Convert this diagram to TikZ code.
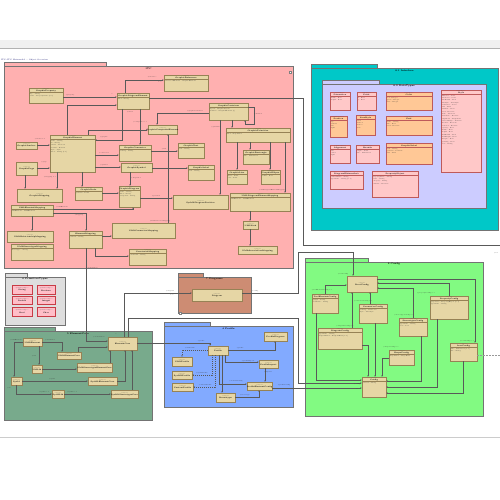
\documentclass[tikz,border=0pt]{standalone}
\usetikzlibrary{fit,arrows.meta}
\definecolor{frameband}{RGB}{240,240,240}
\definecolor{itcf}{RGB}{255,176,176}
\definecolor{tealf}{RGB}{0,200,200}
\definecolor{lavf}{RGB}{204,204,255}
\definecolor{primf}{RGB}{222,222,222}
\definecolor{brownf}{RGB}{205,140,115}
\definecolor{bluef}{RGB}{130,170,255}
\definecolor{greenf}{RGB}{130,250,130}
\definecolor{coref}{RGB}{120,170,140}
\definecolor{objf}{RGB}{230,214,165}
\definecolor{objd}{RGB}{150,130,85}
\definecolor{dtpink}{RGB}{255,200,200}
\definecolor{dtorange}{RGB}{255,200,150}
\definecolor{dtd}{RGB}{190,90,90}
\definecolor{primbox}{RGB}{255,190,200}
\definecolor{primd}{RGB}{200,60,70}
\tikzset{
  xobj/.style={draw=objd, fill=objf, line width=0.3pt, inner sep=0pt, outer sep=0pt},
  xst/.style={font=\fontsize{1.3}{1.5}\selectfont, inner sep=0pt, text=black!70},
  xnm/.style={font=\bfseries\fontsize{1.8}{2}\selectfont, inner sep=0pt},
  xatr/.style={font=\fontsize{1.4}{2.3}\selectfont, inner sep=0pt, align=left, text=black!85},
  xsep/.style={draw=objd, line width=0.2pt},
  xpk/.style={draw=black!55, line width=0.35pt, inner sep=0pt, outer sep=0pt},
  xpt/.style={font=\bfseries\fontsize{2.2}{2.6}\selectfont, inner sep=0pt},
  xln/.style={draw=black!65, line width=0.3pt},
  xar/.style={xln, -{Latex[length=1.6pt,width=1.3pt]}},
  xdl/.style={xln, dash pattern=on 1.2pt off 0.8pt, -{Latex[length=1.6pt,width=1.3pt]}},
  xlb/.style={font=\fontsize{1.4}{1.6}\selectfont, inner sep=0.2pt, text=black!80},
}
\newcommand\UMLob[7]{%
  \node[xobj, fit={(#2,#3)(#4,#5)}] (#1) {};
  \if\relax\detokenize{#7}\relax
    \node[xst] (#1s) at ([yshift=1.0pt]#1.center) {«object»};
    \node[xnm] (#1n) at ([yshift=-0.8pt]#1.center) {#6};
  \else
    \node[xst] (#1s) at ([yshift=-1.3pt]#1.north) {«object»};
    \node[xnm] (#1n) at ([yshift=-3.0pt]#1.north) {#6};
    \draw[xsep] ([yshift=-4.5pt]#1.north west) -- ([yshift=-4.5pt]#1.north east);
    \node[xatr, anchor=north west] (#1a) at ([xshift=0.7pt,yshift=-5.0pt]#1.north west) {#7};
  \fi}
\newcommand\UMLdt[9]{%
  \node[xobj, draw=dtd, fill=#6, fit={(#2,#3)(#4,#5)}] (#1) {};
  \node[xst] (#1s) at ([yshift=-1.3pt]#1.north) {«#7»};
  \node[xnm] (#1n) at ([yshift=-3.0pt]#1.north) {#8};
  \draw[xsep, draw=dtd] ([yshift=-4.5pt]#1.north west) -- ([yshift=-4.5pt]#1.north east);
  \node[xatr, anchor=north west] (#1a) at ([xshift=0.7pt,yshift=-5.0pt]#1.north west) {#9};}
\newcommand\UMLpb[6]{%
  \node[xobj, draw=primd, fill=primbox, fit={(#2,#3)(#4,#5)}] (#1) {};
  \node[xst] (#1s) at ([yshift=0.9pt]#1.center) {«primitiveType»};
  \node[xnm] (#1n) at ([yshift=-0.9pt]#1.center) {#6};}
\newcommand\UMLpk[8]{%
  \draw[xpk, fill=#7] (#2,#3-4) rectangle (#6,#3);
  \node[xpk, fill=#7, fit={(#2,#3)(#4,#5)}] (#1) {};
  \node[xpt] (#1t) at ([yshift=-2.4pt]#1.north) {#8};}
\begin{document}
\begin{tikzpicture}[x=1pt,y=-1pt]
\useasboundingbox (0,0) rectangle (500,500);
\fill[white] (0,0) rectangle (500,500);
% frame
\fill[frameband] (0,40) rectangle (500,48);
\draw[black!30, line width=0.4pt] (0,48) -- (500,48);
\draw[black!20, line width=0.4pt] (0,437) -- (500,437);
\node[font=\fontsize{1.9}{2.1}\selectfont, text=blue!40!black, anchor=west, inner sep=0pt] (toptitle) at (1,60) {ITC::ITC Metamodel :: Object Overview};

% ===== packages =====
\UMLpk{pITC}{4}{66}{293}{268}{106}{itcf}{ITC}
\node[draw=black!50, fill=white, line width=0.2pt, minimum size=2.5pt, inner sep=0pt] (icoITC) at (290,72) {};
\UMLpk{pTeal}{311}{68}{498}{230}{377}{tealf}{8.1 Interface}
\UMLpk{pLav}{322}{84}{486}{208}{379}{lavf}{8.2 DataTypes}
\UMLpk{pPrim}{5}{277}{65}{325}{27}{primf}{6 PrimitiveTypes}
\UMLpk{pBrown}{178}{277}{251}{313}{203}{brownf}{7 Diagrams}
\node[draw=black!50, fill=white, line width=0.2pt, minimum size=2.5pt, inner sep=0pt] (icoBr) at (180,313) {};
\UMLpk{pBlue}{164}{326}{293}{407}{210}{bluef}{4 Profile}
\UMLpk{pGreen}{305}{262}{483}{416}{368}{greenf}{2 Config}
\UMLpk{pCore}{4}{331}{152}{420}{55}{coref}{5 ElementCore}

% ===== ITC objects =====
\UMLob{i1}{29}{88}{63}{103}{GraphicProperty}{key : String\\value : PropertyValue [0..1]}
\UMLob{i2}{117}{93}{149}{109}{GraphicDiagramElement}{kind : String}
\UMLob{i3}{164}{75}{208}{91}{GraphicReference}{referencedElement : GraphicElement}
\UMLob{i4}{209}{103}{248}{120}{GraphicContainer}{layout : GraphicLayout\\children : GraphicElement [*]}
\UMLob{i5}{50}{135}{95}{172}{GraphicElement}{name : String\\id : String\\visible : Boolean\\bounds : Bounds\\style : Style\\label : String [0..1]}
\UMLob{i6}{16}{142}{37}{149}{GraphicAnchor}{}
\UMLob{i7}{16}{162}{37}{175}{GraphicPage}{}
\UMLob{i8}{148}{125}{177}{134}{GraphicCompositeElement}{}
\UMLob{i9}{119}{145}{151}{161}{GraphicConnector}{routing : String}
\UMLob{i10}{121}{163}{152}{172}{GraphicSymbol}{}
\UMLob{i11}{178}{143}{204}{158}{GraphicText}{text : String}
\UMLob{i12}{188}{165}{214}{180}{GraphicLabel}{text : String}
\UMLob{i13}{226}{128}{290}{142}{GraphicPrimitive}{kind : ShapeKind}
\UMLob{i14}{243}{150}{269}{164}{GraphicRectangle}{size : Dimension}
\UMLob{i15}{227}{170}{247}{184}{GraphicLine}{start : Point\\end : Point}
\UMLob{i16}{261}{170}{280}{184}{GraphicEllipse}{radius : Real}
\UMLob{i17}{17}{189}{62}{202}{GraphicMapping}{}
\UMLob{i18}{75}{187}{102}{200}{GraphicNode}{position : Point}
\UMLob{i19}{119}{186}{140}{207}{GraphicDiagram}{name : String\\kind : String\\viewpoint : String}
\UMLob{i20}{173}{195}{228}{209}{SysMLDiagramPosition}{}
\UMLob{i21}{230}{193}{290}{211}{UMLDiagramElementMapping}{umlElement : UMLElement}
\UMLob{i22}{11}{205}{53}{216}{UMLElementMapping}{umlElement : UMLElement}
\UMLob{i23}{7}{231}{53}{242}{UMLRelationshipMapping}{}
\UMLob{i24}{11}{244}{53}{260}{UMLStereotypeMapping}{stereotype : String}
\UMLob{i25}{69}{231}{102}{248}{ElementMapping}{element : String}
\UMLob{i26}{112}{223}{175}{238}{UMLConnectorMapping}{}
\UMLob{i27}{243}{221}{258}{229}{UMLLink}{}
\UMLob{i28}{238}{246}{277}{254}{UMLAssociationMapping}{}
\UMLob{i29}{129}{249}{166}{265}{ConstraintMapping}{constraint : String}

% ===== data types =====
\UMLdt{d1}{330}{92}{350}{110}{dtpink}{dataType}{Dimension}{width : Real\\height : Real}
\UMLdt{d2}{357}{92}{376}{110}{dtpink}{dataType}{Point}{x : Real\\y : Real}
\UMLdt{d3}{386}{92}{432}{110}{dtorange}{dataType}{Color}{red : Integer\\green : Integer\\blue : Integer}
\UMLdt{d4}{441}{90}{481}{172}{dtpink}{dataType}{Style}{\fontsize{1.4}{3.0}\selectfont fillColor : Color\\lineColor : Color\\lineWidth : Real\\lineStyle : LineStyle\\textColor : Color\\font : Font\\fontSize : Real\\bold : Boolean\\italic : Boolean\\underline : Boolean\\alignment : Alignment\\verticalAlign : Position\\shadow : Boolean\\rounded : Boolean\\opacity : Real\\width : Real\\height : Real\\minWidth : Real\\minHeight : Real\\margin : Real\\padding : Real\\icon : String}
\UMLdt{d5}{330}{116}{347}{137}{dtorange}{enumeration}{Position}{top\\bottom\\left\\right}
\UMLdt{d6}{356}{115}{375}{135}{dtorange}{enumeration}{LineStyle}{solid\\dashed\\dotted\\none}
\UMLdt{d7}{386}{116}{432}{135}{dtorange}{dataType}{Font}{name : String\\size : Real\\bold : Boolean}
\UMLdt{d8}{330}{145}{350}{163}{dtpink}{enumeration}{Alignment}{left\\center\\right}
\UMLdt{d9}{356}{145}{379}{163}{dtpink}{dataType}{Bounds}{origin : Point\\size : Dimension}
\UMLdt{d10}{386}{143}{432}{164}{dtorange}{dataType}{GraphicLabel}{text : String\\position : Position\\font : Font}
\UMLdt{d11}{330}{171}{363}{189}{dtpink}{dataType}{DiagramElementInfo}{elementKind : String\\typeName : String [0..1]}
\UMLdt{d12}{372}{171}{418}{197}{dtpink}{dataType}{PropertyObject}{propertyName : String\\value : String\\category : String\\editable : Boolean}

% ===== primitive types =====
\UMLpb{p1}{12}{285}{32}{294}{String}
\UMLpb{p2}{37}{285}{55}{294}{Boolean}
\UMLpb{p3}{12}{296}{32}{304}{Double}
\UMLpb{p4}{37}{296}{55}{304}{Integer}
\UMLpb{p5}{12}{307}{32}{316}{Real}
\UMLpb{p6}{37}{307}{55}{316}{Char}

% ===== brown =====
\UMLob{br}{192}{289}{242}{301}{Diagram}{}

% ===== element core =====
\UMLob{e1}{23}{338}{42}{346}{UMLElement}{}
\UMLob{e2}{108}{337}{137}{350}{ElementCore}{}
\UMLob{e3}{57}{352}{81}{359}{UMLElementCore}{}
\UMLob{e4}{32}{365}{42}{373}{UMLId}{}
\UMLob{e5}{77}{363}{112}{372}{UMLStereotypeElementCore}{}
\UMLob{e6}{11}{377}{22}{385}{SysId}{}
\UMLob{e7}{88}{377}{117}{385}{SysMLElementCore}{}
\UMLob{e8}{52}{390}{64}{398}{SysMLId}{}
\UMLob{e9}{111}{390}{138}{398}{SysMLStereotypeCore}{}

% ===== profile =====
\UMLob{b1}{208}{346}{228}{355}{Profile}{}
\UMLob{b2}{264}{332}{287}{341}{ProfileDiagram}{}
\UMLob{b3}{172}{357}{192}{366}{UMLProfile}{}
\UMLob{b4}{172}{371}{192}{379}{SysMLProfile}{}
\UMLob{b5}{172}{383}{193}{391}{CustomProfile}{}
\UMLob{b6}{259}{360}{278}{368}{ProfileImport}{}
\UMLob{b7}{247}{382}{272}{390}{ProfileElementConfig}{}
\UMLob{b8}{216}{393}{235}{402}{Stereotype}{}

% ===== config =====
\UMLob{g1}{347}{276}{377}{292}{RootConfig}{}
\UMLob{g2}{312}{294}{338}{313}{ToolElementConfig}{plugin : String\\toolName : String}
\UMLob{g3}{359}{304}{387}{323}{ConnectorConfig}{routing : Connector\\style : LineStyle}
\UMLob{g4}{430}{296}{468}{319}{PropertyConfig}{properties : PropertyObject [0..*]\\typeName : String}
\UMLob{g5}{399}{318}{427}{336}{StereotypeConfig}{typeName : String\\icon : Icon}
\UMLob{g6}{318}{328}{362}{349}{DiagramConfig}{typeName : String\\diagramKind : DiagramKind [0..1]}
\UMLob{g7}{389}{350}{414}{365}{ShapeConfig}{shapeKind : ShapeKind}
\UMLob{g8}{450}{343}{477}{361}{IconConfig}{size : Dimension [0..1]\\file : String}
\UMLob{g9}{362}{377}{386}{397}{Config}{version : String}

% ===== ITC connectors =====
\draw[xar] (i1.east|-0,97) -- (i2.west|-0,97);
\draw[xar] (125,0|-i2.north) -- (125,80) -- (i3.west|-0,80);
\draw[xln] (i2.east|-0,98) -- (303,98) -- (303,245) -- (500,245);
\draw[xar] (i4.west|-0,113) -- (157,113) -- (157,0|-i8.north);
\draw[xar] (i4.east|-0,107) -- (254,107) -- (254,124) -- (245,124) -- (245,0|-i4.south);
\draw[xar] (232,0|-i4.south) -- (232,0|-i13.north);
\draw[xar] (220,0|-i4.south) -- (220,0|-i20.north);
\draw[xar] (250,0|-i13.south) -- (250,0|-i14.north);
\draw[xar] (237,0|-i13.south) -- (237,0|-i15.north);
\draw[xar] (270,0|-i13.south) -- (270,0|-i16.north);
\draw[xar] (285,0|-i13.south) -- (285,0|-i21.north);
\draw[xar] (i6.east|-0,145) -- (i5.west|-0,145);
\draw[xar] (i7.east|-0,168) -- (i5.west|-0,168);
\draw[xar] (25,0|-i7.south) -- (25,0|-i17.north);
\draw[xar] (i5.east|-0,155) -- (i9.west|-0,155);
\draw[xar] (i5.east|-0,167) -- (i10.west|-0,167);
\draw[xar] (67,0|-i5.north) -- (67,105) -- (i2.west|-0,105);
\draw[xar] (88,0|-i5.north) -- (88,130) -- (i8.west|-0,130);
\draw[xar] (122,0|-i2.south) -- (122,140) -- (i5.east|-0,140);
\draw[xar] (140,0|-i2.south) -- (140,0|-i9.north);
\draw[xar] (i9.east|-0,151) -- (i11.west|-0,151);
\draw[xar] (i10.east|-0,168) -- (i12.west|-0,168);
\draw[xar] (57,0|-i5.south) -- (57,0|-i17.north);
\draw[xar] (82,0|-i5.south) -- (82,0|-i18.north);
\draw[xar] (130,0|-i10.south) -- (130,0|-i19.north);
\draw[xar] (i18.east|-0,193) -- (i19.west|-0,193);
\draw[xar] (i19.east|-0,198) -- (i20.west|-0,198);
\draw[xar] (i22.east|-0,209) -- (133,209) -- (133,0|-i19.south);
\draw[xar] (32,0|-i22.south) -- (32,0|-i23.north);
\draw[xar] (i22.east|-0,213) -- (86,213) -- (86,0|-i25.north);
\draw[xar] (i25.east|-0,236) -- (i26.west|-0,236);
\draw[xar] (95,0|-i25.south) -- (95,256) -- (i29.west|-0,256);
\draw[xar] (168,0|-i26.north) -- (168,0|-i8.south);
\draw[xar] (250,0|-i21.south) -- (250,0|-i27.north);
\draw[xar] (250,0|-i27.south) -- (250,0|-i28.north);
\draw[xar] (86,0|-i25.south) -- (86,341) -- (e2.west|-0,341);

% ===== element core connectors =====
\draw[xar] (e1.east|-0,342) -- (62,342) -- (62,0|-e3.north);
\draw[xar] (e1.west|-0,342) -- (14,342) -- (14,0|-e6.north);
\draw[xar] (39,0|-e1.south) -- (39,0|-e4.north);
\draw[xar] (e4.east|-0,369) -- (e5.west|-0,369);
\draw[xar] (e6.east|-0,381) -- (e7.west|-0,381);
\draw[xar] (16,0|-e6.south) -- (16,394) -- (e8.west|-0,394);
\draw[xar] (e8.east|-0,394) -- (e9.west|-0,394);
\draw[xar] (110,0|-e5.north) -- (110,0|-e2.south);
\draw[xar] (e7.east|-0,381) -- (125,381) -- (125,0|-e2.south);
\draw[xar] (132,0|-e9.north) -- (132,0|-e2.south);
\draw[xar] (78,0|-e3.north) -- (78,347) -- (e2.west|-0,347);
\draw[xar] (e2.east|-0,343) -- (210,343) -- (210,0|-b1.north);
\draw[xar] (124,0|-e2.north) -- (124,293) -- (br.west|-0,293);
\draw[xar] (128,0|-e2.north) -- (128,318) -- (298,318) -- (298,383) -- (g9.west|-0,383);

% ===== brown connector =====
\draw[xar] (br.east|-0,293) -- (298,293) -- (298,252) -- (353,252) -- (353,0|-g1.north);

% ===== profile connectors =====
\draw[xar] (b1.east|-0,350) -- (275,350) -- (275,0|-b2.south);
\draw[xdl] (b1.west|-0,350) -- (182,350) -- (182,0|-b3.north);
\draw[xdl] (212,0|-b1.south) -- (212,375) -- (b4.east|-0,375);
\draw[xdl] (215,0|-b1.south) -- (215,387) -- (b5.east|-0,387);
\draw[xar] (222,0|-b1.south) -- (222,0|-b8.north);
\draw[xar] (219,0|-b1.south) -- (219,384) -- (b7.west|-0,384);
\draw[xar] (225,0|-b1.south) -- (225,362) -- (b6.west|-0,362);
\draw[xar] (265,0|-b6.south) -- (265,0|-b7.north);
\draw[xar] (b8.east|-0,397) -- (259,397) -- (259,0|-b7.south);
\draw[xar] (b7.east|-0,388) -- (g9.west|-0,388);

% ===== config connectors =====
\draw[xar] (325,0|-g2.north) -- (325,285) -- (g1.west|-0,285);
\draw[xar] (370,0|-g3.north) -- (370,0|-g1.south);
\draw[xar] (352,0|-g6.north) -- (352,0|-g1.south);
\draw[xar] (413,0|-g5.north) -- (413,288) -- (g1.east|-0,288);
\draw[xar] (449,0|-g4.north) -- (449,283) -- (g1.east|-0,283);
\draw[xar] (g1.east|-0,279) -- (475,279) -- (475,0|-g8.north);
\draw[xar] (316,0|-g2.south) -- (316,380) -- (g9.west|-0,380);
\draw[xar] (g6.east|-0,345) -- (368,345) -- (368,0|-g9.north);
\draw[xar] (375,0|-g3.south) -- (375,0|-g9.north);
\draw[xar] (g7.west|-0,358) -- (382,358) -- (382,0|-g9.north);
\draw[xar] (421,0|-g5.south) -- (421,381) -- (g9.east|-0,381);
\draw[xar] (437,0|-g4.south) -- (437,387) -- (g9.east|-0,387);
\draw[xar] (463,0|-g8.south) -- (463,393) -- (g9.east|-0,393);
\draw[xln, black!40, dash pattern=on 1.5pt off 1.5pt] (g8.east|-0,355) -- (500,355);

% ===== labels =====
\node[xlb] (L1) at (70,95) {+property};
\node[xlb] (L2) at (112,94) {1};
\node[xlb] (L3) at (152,77) {+reference};
\node[xlb] (L4) at (160,82) {0..1};
\node[xlb] (L5) at (130,112) {+owner};
\node[xlb] (L6) at (195,111) {+graphicContainer};
\node[xlb] (L7) at (258,114) {+children};
\node[xlb] (L8) at (40,139) {+anchor 0..1};
\node[xlb] (L9) at (44,162) {+page};
\node[xlb] (L10) at (50,177) {+mapping 0..*};
\node[xlb] (L11) at (104,137) {+graphic};
\node[xlb] (L12) at (104,153) {+connector};
\node[xlb] (L13) at (104,165) {+symbol};
\node[xlb] (L14) at (140,122) {+composite 0..*};
\node[xlb] (L15) at (164,149) {+text};
\node[xlb] (L16) at (136,178) {+diagram 1};
\node[xlb] (L17) at (216,127) {+primitive};
\node[xlb] (L18) at (156,196) {+position};
\node[xlb] (L19) at (272,190) {+umlDiagramElementMapping};
\node[xlb] (L20) at (160,221) {+umlConnectorMapping};
\node[xlb] (L21) at (62,207) {+umlElement};
\node[xlb] (L22) at (79,215) {+mapping};
\node[xlb] (L23) at (92,268) {+elementCore};
\node[xlb] (L24) at (16,340) {+umlElement};
\node[xlb] (L25) at (50,340) {+attributes};
\node[xlb] (L26) at (34,356) {+uid};
\node[xlb] (L27) at (9,388) {+id};
\node[xlb] (L28) at (44,392) {+sysId 0..1};
\node[xlb] (L29) at (72,392) {+sysId 0..1};
\node[xlb] (L30) at (52,379) {+sysId};
\node[xlb] (L31) at (99,337) {+elementCore};
\node[xlb] (L32) at (116,334) {1};
\node[xlb] (L33) at (170,291) {+diagram};
\node[xlb] (L34) at (172,295) {0..1};
\node[xlb] (L35) at (255,291) {+config};
\node[xlb] (L36) at (190,348) {+umlProfile};
\node[xlb] (L37) at (201,341) {+profile};
\node[xlb] (L38) at (240,348) {+profile};
\node[xlb] (L39) at (248,361) {+profileImport};
\node[xlb] (L40) at (268,372) {+imports};
\node[xlb] (L41) at (202,373) {+sysmlProfile};
\node[xlb] (L42) at (236,381) {+elementConfig};
\node[xlb] (L43) at (205,385) {+customProfile};
\node[xlb] (L44) at (245,395) {+stereotype};
\node[xlb] (L45) at (284,385) {+profileConfig};
\node[xlb] (L46) at (343,274) {+rootConfig};
\node[xlb] (L47) at (322,290) {+toolElementConfig 0..*};
\node[xlb] (L48) at (363,301) {+connectorConfig 0..*};
\node[xlb] (L49) at (426,293) {+propertyConfig 0..*};
\node[xlb] (L50) at (404,315) {+stereotypeConfig 0..*};
\node[xlb] (L51) at (345,326) {+diagramConfig 0..*};
\node[xlb] (L52) at (391,347) {+shapeConfig 0..*};
\node[xlb] (L53) at (467,341) {+iconConfig 0..*};
\node[xlb] (L54) at (357,384) {+config};
\node[xlb] (L55) at (357,389) {1};
\node[xlb] (L56) at (496,253) {+ref};
\end{tikzpicture}
\end{document}
